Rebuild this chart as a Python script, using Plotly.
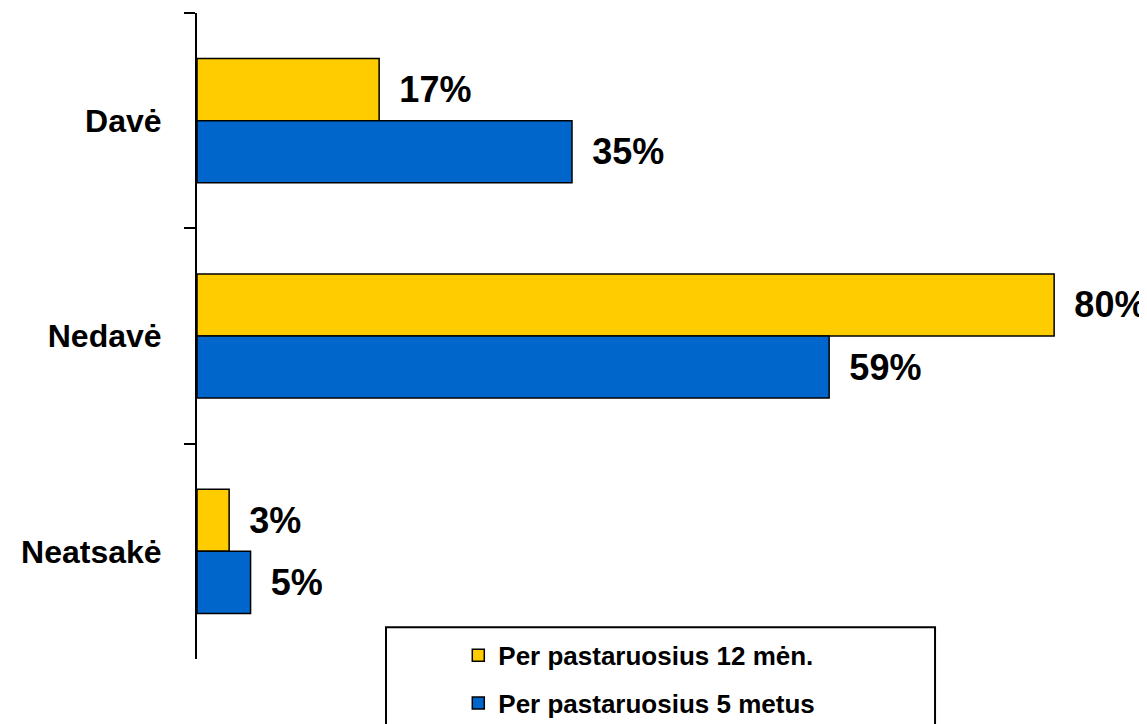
import plotly.graph_objects as go

categories = ["Davė", "Nedavė", "Neatsakė"]
series_names = ["Per pastaruosius 12 mėn.", "Per pastaruosius 5 metus"]
values_12m = [17, 80, 3]
values_5y = [35, 59, 5]

colors = ["#FFCC00", "#0066CC"]
font_family = "Liberation Sans, Arial, sans-serif"

fig = go.Figure()
for i, (name, vals) in enumerate(zip(series_names, [values_12m, values_5y])):
    fig.add_trace(go.Bar(
        y=categories, x=vals, name=name, orientation="h",
        marker=dict(color=colors[i], line=dict(color="black", width=1.5)),
        text=vals, texttemplate="\u00a0\u2009%{x}%", textposition="outside",
        textfont=dict(family=font_family, size=36, color="black", weight="bold"),
        constraintext="none", cliponaxis=False,
        legendgroup=f"g{i}",
    ))

# the page body adds an 8px offset, so the figure is 8px smaller and margins compensate
fig.update_layout(
    width=1139, height=716,
    margin=dict(l=189, r=5, t=5, b=65, autoexpand=False),
    paper_bgcolor="white", plot_bgcolor="white",
    barmode="group", bargap=0.423, bargroupgap=0,
    font=dict(family=font_family, color="black"),
    xaxis=dict(range=[0, 88.2], showticklabels=False, showgrid=False,
               zeroline=False, showline=False, fixedrange=True, automargin=False),
    yaxis=dict(categoryorder="array", categoryarray=categories,
               autorange="reversed", showline=True, linecolor="black", linewidth=2,
               ticks="outside", tickson="boundaries", ticklen=11, tickwidth=2,
               tickcolor="black", ticklabelstandoff=27, automargin=False,
               tickfont=dict(family=font_family, size=32, color="black", weight="bold")),
    legend=dict(x=0.2765, y=0.042, xanchor="left", yanchor="top",
                bgcolor="rgba(0,0,0,0)", borderwidth=0, tracegroupgap=11,
                traceorder="grouped", itemwidth=30,
                font=dict(family=font_family, size=26, color="black", weight="bold")),
    shapes=[dict(type="rect", xref="paper", yref="paper",
                 x0=0.2, x1=0.781, y0=-0.2, y1=0.049,
                 line=dict(color="black", width=2), fillcolor="rgba(0,0,0,0)")],
)

fig.write_html("out.html")
